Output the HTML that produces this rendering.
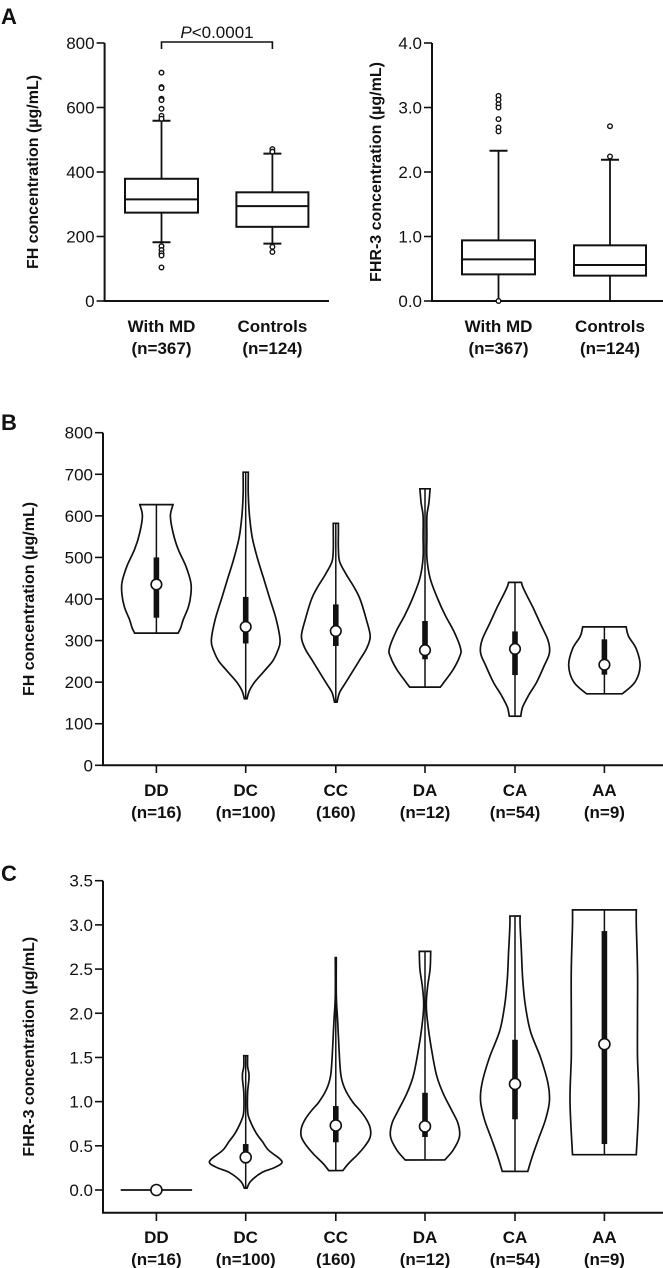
<!DOCTYPE html>
<html><head><meta charset="utf-8"><style>
html,body{margin:0;padding:0;background:#fff}
svg{display:block}
text{font-family:"Liberation Sans",Arial,sans-serif;fill:#111}
.t{font-size:17px}
.b{font-weight:bold;font-size:16px}
.x{font-weight:bold;font-size:17px}
.p{font-size:22px;font-weight:bold}
</style></head><body>
<svg id="fig" width="663" height="1268" viewBox="0 0 663 1268" xmlns="http://www.w3.org/2000/svg"></svg>
<script>
// ---- Panel A data ----
const aGroups = ['With MD','Controls'];
const aNs = ['(n=367)','(n=124)'];
const fhTicks = [0,200,400,600,800];
const fhQ1 = [274,230];
const fhMedian = [315,294];
const fhQ3 = [379,337];
const fhLow = [182,178];
const fhHigh = [559,457];
const fhOutMD = [708,663,660,627,623,596,574,565,170,158,148,141,104];
const fhOutCtl = [471,463,168,152];
const fhrTicks = [0,1,2,3,4];
const fhrQ1 = [0.413,0.393];
const fhrMedian = [0.646,0.558];
const fhrQ3 = [0.94,0.863];
const fhrLow = [0,0];
const fhrHigh = [2.33,2.19];
const fhrOutMD = [3.18,3.12,3.05,3.0,2.82,2.69,2.63,0];
const fhrOutCtl = [2.71,2.24];
// ---- Panel B data ----
const gGroups = ['DD','DC','CC','DA','CA','AA'];
const bNs = ['(n=16)','(n=100)','(160)','(n=12)','(n=54)','(n=9)'];
const bTicks = [0,100,200,300,400,500,600,700,800];
const bMedian = [435,333,323,277,280,242];
const bQ1 = [355,293,287,255,217,218];
const bQ3 = [500,405,387,347,322,303];
const bMin = [318,160,152,188,118,172];
const bMax = [627,705,582,665,440,333];
const bDensVals = [
 [318,330,350,380,410,440,480,520,560,600,627],
 [160,180,200,225,250,275,300,350,400,450,500,550,600,650,705],
 [152,175,200,250,280,310,350,400,430,460,490,520,560,582],
 [188,200,230,260,280,320,360,400,450,500,550,600,630,665],
 [118,140,170,200,240,270,300,340,380,410,430,440],
 [172,200,240,280,310,333]];
const bDens = [
 [17,19,21,25,27,27,23,17,13,11,13],
 [1,3,7,14,21,25,27,24,19,14,9,5,3,2,2],
 [1,3,8,18,24,27,24,19,14,8,3,2,2,2],
 [12,15,22,27,28,23,16,10,4,1.5,1.5,1.5,3,4],
 [4.5,6,11,17,23,27,26,20,14,9,6,5],
 [14,24,28,25,19,17]];
// ---- Panel C data ----
const cNs = ['(n=16)','(n=100)','(160)','(n=12)','(n=54)','(n=9)'];
const cTicks = [0,0.5,1,1.5,2,2.5,3,3.5];
const cMedian = [0,0.37,0.73,0.72,1.20,1.65];
const cQ1 = [0,0.30,0.54,0.60,0.80,0.52];
const cQ3 = [0,0.52,0.95,1.10,1.70,2.93];
const cMin = [0,0.02,0.22,0.34,0.21,0.40];
const cMax = [0,1.52,2.63,2.70,3.10,3.17];
const cDensVals = [
 [0],
 [0.02,0.1,0.2,0.25,0.3,0.35,0.45,0.55,0.65,0.8,0.9,1.1,1.25,1.32,1.4,1.52],
 [0.22,0.3,0.4,0.5,0.6,0.7,0.8,0.9,1.0,1.15,1.3,1.6,1.9,2.2,2.63],
 [0.34,0.45,0.6,0.75,0.9,1.1,1.3,1.6,1.9,2.1,2.3,2.5,2.7],
 [0.21,0.4,0.6,0.8,1.0,1.2,1.5,1.8,2.1,2.4,2.7,3.0,3.1],
 [0.40,1.0,1.5,2.0,2.5,3.0,3.17]];
const cDens = [
 [28],
 [1,4,13,22,28,27,18,13,8,3,1.5,1.5,2.5,2.5,1.5,1.5],
 [5.5,10,17,23,27,27,24,19,13,7,4,2.5,1.5,0.4,0.4],
 [15.5,22,27,26,21,14,9,5,2,1,2,4,4.5],
 [10,14,19,24,27,26,20,12,8,6,5,4,4],
 [25,27,26,26,26,25,25]];

const NS='http://www.w3.org/2000/svg';
const svg=document.getElementById('fig');
function mk(tag,attrs,parent){const e=document.createElementNS(NS,tag);for(const k in attrs)e.setAttribute(k,attrs[k]);(parent||svg).appendChild(e);return e;}
function txt(s,x,y,cls,anchor,parent){const e=mk('text',{x:x,y:y,class:cls,'text-anchor':anchor||'middle'},parent);e.textContent=s;return e;}
function lin(x1,y1,x2,y2,w,parent){return mk('line',{x1:x1,y1:y1,x2:x2,y2:y2,stroke:'#111','stroke-width':w||1.6},parent);}

function scale(d0,d1,r0,r1){return v=>r0+(v-d0)*(r1-r0)/(d1-d0);}

function axes(g,x0,yTop,yBot,xEnd,ys,ticks,fmt,title,titleX){
  const ax=lin(x0,yTop,x0,yBot,2,g);
  
  
  const bx=lin(x0-1,yBot,xEnd,yBot,2,g);
  
  
  ticks.forEach(t=>{
    const y=ys(t);
    lin(x0-8,y,x0,y,1.6,g);
    const l=txt(fmt(t),x0-10,y+6,'t','end',g);
    
    
  });
  const cy=(yTop+yBot)/2;
  const tt=mk('text',{x:0,y:0,class:'b','text-anchor':'middle',transform:`translate(${titleX},${cy}) rotate(-90)`},g);
  tt.textContent=title;
  
  
}

function boxplot(g,cx,hw,ys,q1,med,q3,lo,hi,outs){
  lin(cx,ys(hi),cx,ys(q3),1.8,g);
  lin(cx,ys(q1),cx,ys(lo),1.8,g);
  lin(cx-9,ys(hi),cx+9,ys(hi),2,g);
  lin(cx-9,ys(lo),cx+9,ys(lo),2,g);
  const r=mk('rect',{x:cx-hw,y:ys(q3),width:2*hw,height:ys(q1)-ys(q3),fill:'none',stroke:'#111','stroke-width':2},g);
  
  
  lin(cx-hw,ys(med),cx+hw,ys(med),2,g);
  outs.forEach(o=>{
    const c=mk('circle',{cx:cx,cy:ys(o),r:2.3,fill:'#fff',stroke:'#111','stroke-width':1.4},g);
    
    
  });
}

// ---- Panel A ----
const gA=mk('g',{});


txt('A',1,24,'p','start',gA);
const yA=scale(0,800,301,43);
axes(gA,104.6,43,301,329,yA,fhTicks,t=>String(t),'FH concentration (µg/mL)',38);
const axA=[161.5,272.4];
boxplot(gA,axA[0],36.5,yA,fhQ1[0],fhMedian[0],fhQ3[0],fhLow[0],fhHigh[0],fhOutMD);
boxplot(gA,axA[1],36,yA,fhQ1[1],fhMedian[1],fhQ3[1],fhLow[1],fhHigh[1],fhOutCtl);
aGroups.forEach((s,i)=>{txt(s,axA[i],332,'x','middle',gA);txt(aNs[i],axA[i],354,'x','middle',gA);});
mk('path',{d:`M${axA[0]},49 V42 H${axA[1]} V49`,fill:'none',stroke:'#111','stroke-width':1.6},gA);
const pt=mk('text',{x:217,y:38,class:'t','text-anchor':'middle'},gA);
pt.innerHTML='<tspan font-style="italic">P</tspan>&lt;0.0001';



const yA2=scale(0,4,301,43);
axes(gA,432,43,301,663,yA2,fhrTicks,t=>t.toFixed(1),'FHR-3 concentration (µg/mL)',381);
const axA2=[498.5,610];
boxplot(gA,axA2[0],36.5,yA2,fhrQ1[0],fhrMedian[0],fhrQ3[0],fhrLow[0],fhrHigh[0],fhrOutMD);
boxplot(gA,axA2[1],36,yA2,fhrQ1[1],fhrMedian[1],fhrQ3[1],fhrLow[1],fhrHigh[1],fhrOutCtl);
aGroups.forEach((s,i)=>{txt(s,axA2[i],332,'x','middle',gA);txt(aNs[i],axA2[i],354,'x','middle',gA);});

// ---- Violin helper ----
const KW=1.275;
function violinPath(cx,ys,vals,dens){
  const R=vals.map((v,i)=>[cx+dens[i]*KW,ys(v)]);
  const L=vals.map((v,i)=>[cx-dens[i]*KW,ys(v)]).reverse();
  function smooth(pts){
    let d='';
    for(let i=0;i<pts.length-1;i++){
      const p0=pts[Math.max(0,i-1)],p1=pts[i],p2=pts[i+1],p3=pts[Math.min(pts.length-1,i+2)];
      const c1=[p1[0]+(p2[0]-p0[0])/6,p1[1]+(p2[1]-p0[1])/6];
      const c2=[p2[0]-(p3[0]-p1[0])/6,p2[1]-(p3[1]-p1[1])/6];
      d+=` C${c1[0].toFixed(1)},${c1[1].toFixed(1)} ${c2[0].toFixed(1)},${c2[1].toFixed(1)} ${p2[0].toFixed(1)},${p2[1].toFixed(1)}`;
    }
    return d;
  }
  return `M${R[0][0]},${R[0][1]}`+smooth(R)+` L${L[0][0]},${L[0][1]}`+smooth(L)+' Z';
}
function violins(g,centers,ys,vals,dens,mn,mx,q1,q3,med,rad){
  centers.forEach((cx,i)=>{
    if(mx[i]===mn[i]){
      const l=lin(cx-dens[i][0]*KW,ys(mn[i]),cx+dens[i][0]*KW,ys(mn[i]),1.8,g);
      
      
    } else {
      const p=mk('path',{d:violinPath(cx,ys,vals[i],dens[i]),fill:'none',stroke:'#111','stroke-width':1.7},g);
      
      
      lin(cx,ys(mn[i]),cx,ys(mx[i]),1.5,g);
      const r=mk('rect',{x:cx-2.8,y:ys(q3[i]),width:5.6,height:ys(q1[i])-ys(q3[i]),fill:'#111'},g);
      
      
    }
    const c=mk('circle',{cx:cx,cy:ys(med[i]),r:rad,fill:'#fff',stroke:'#111','stroke-width':1.6},g);
    
    
  });
}
const cxs=[156.4,245.7,335.8,425,515,604.4];

// ---- Panel B ----
const gB=mk('g',{});


txt('B',1,430,'p','start',gB);
const yB=scale(0,800,765.3,432.7);
axes(gB,103,432.7,765.3,663,yB,bTicks,t=>String(t),'FH concentration (µg/mL)',34);
cxs.forEach(cx=>lin(cx,765.3,cx,773,1.6,gB));
violins(gB,cxs,yB,bDensVals,bDens,bMin,bMax,bQ1,bQ3,bMedian,5.3);
gGroups.forEach((s,i)=>{txt(s,cxs[i],796,'x','middle',gB);txt(bNs[i],cxs[i],818,'x','middle',gB);});

// ---- Panel C ----
const gC=mk('g',{});


txt('C',1,881,'p','start',gC);
const yC=scale(0,3.5,1190,880.7);
axes(gC,103,880.7,1212.7,663,yC,cTicks,t=>t.toFixed(1),'FHR-3 concentration (µg/mL)',34);
cxs.forEach(cx=>lin(cx,1212.7,cx,1221,1.6,gC));
violins(gC,cxs,yC,cDensVals,cDens,cMin,cMax,cQ1,cQ3,cMedian,5.5);
gGroups.forEach((s,i)=>{txt(s,cxs[i],1243,'x','middle',gC);txt(cNs[i],cxs[i],1265,'x','middle',gC);});
</script>
</body></html>
